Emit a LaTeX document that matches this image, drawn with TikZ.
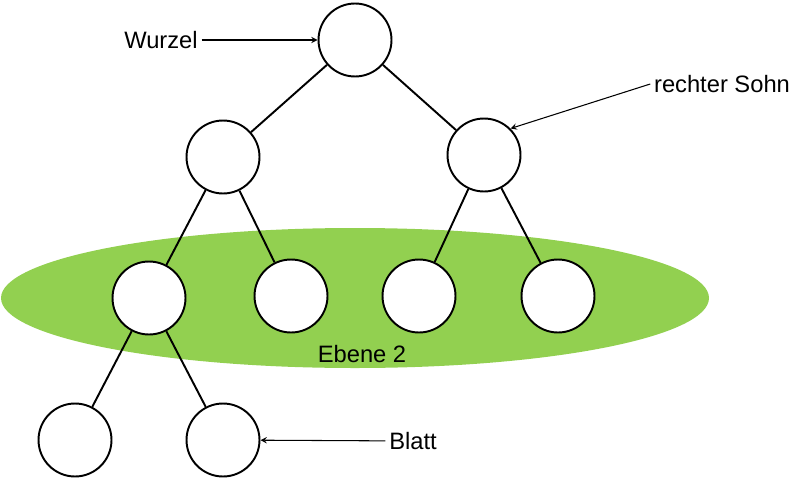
\documentclass[tikz,border=0pt]{standalone}
\usepackage{fontspec}
\setmainfont{Liberation Sans}
\usetikzlibrary{positioning, arrows}
\tikzstyle{knoten} = [circle, draw=black, line width=1.1pt, fill=white, minimum size=1.46cm, inner sep=0pt]
\tikzstyle{kante} = [line width=1.1pt]
\tikzstyle{zeiger} = [line width=0.6pt,->,>=stealth]
\tikzstyle{label} = [font=\fontsize{13.5}{15}\selectfont, inner sep=2pt]

\begin{document}
\begin{tikzpicture}[x=0.02cm,y=-0.02cm]
            \useasboundingbox (0,0) rectangle (800,483);
            \fill [fill={rgb,255:red,146;green,208;blue,80}] (355,298) ellipse [x radius=354, y radius=70];
            \node (ebene) [label] at (362,354) {Ebene 2};

            \node (wurzel) [knoten] at (355,40) {};
            \node (links) [knoten] at (223,157) {};
            \node (rechts) [knoten] at (484,155) {};
            \node (ll) [knoten] at (149,298) {};
            \node (lr) [knoten] at (291,296) {};
            \node (rl) [knoten] at (419,296) {};
            \node (rr) [knoten] at (558,296) {};
            \node (lll) [knoten] at (75,440) {};
            \node (llr) [knoten] at (223,440) {};

            \draw [kante] (wurzel) -- (links);
            \draw [kante] (wurzel) -- (rechts);
            \draw [kante] (links) -- (ll);
            \draw [kante] (links) -- (lr);
            \draw [kante] (rechts) -- (rl);
            \draw [kante] (rechts) -- (rr);
            \draw [kante] (ll) -- (lll);
            \draw [kante] (ll) -- (llr);

            \node (twurzel) [label] at (161,40) {Wurzel};
            \node (tsohn) [label] at (722,84) {rechter Sohn};
            \node (tblatt) [label] at (413,441) {Blatt};
            \draw [zeiger] (twurzel) -- (wurzel);
            \draw [zeiger] (tsohn.west) -- (rechts.north east);
            \draw [zeiger] (tblatt) -- (llr);
\end{tikzpicture}
\end{document}
